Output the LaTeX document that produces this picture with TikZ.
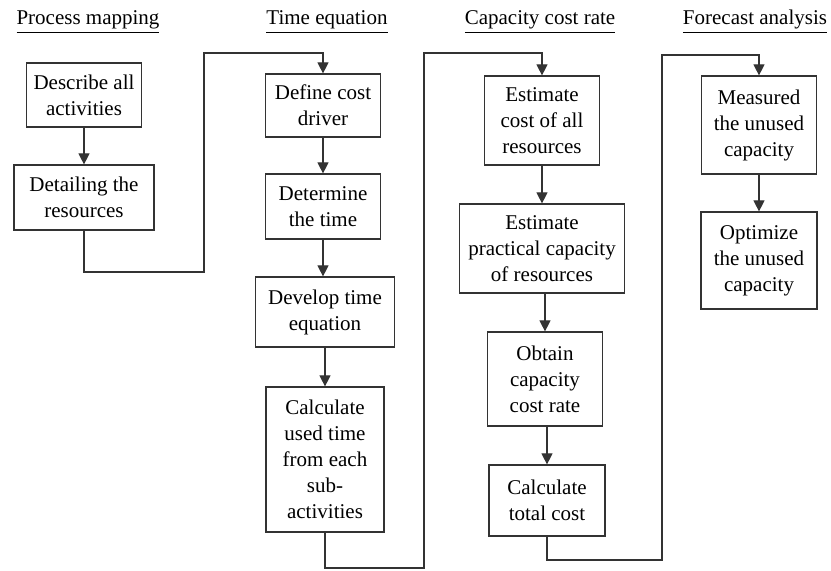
\documentclass[tikz,border=0pt]{standalone}
\usepackage{fontspec}
\setmainfont{Liberation Serif}
\usetikzlibrary{arrows.meta}

\begin{document}
\begin{tikzpicture}[x=0.5pt,y=-0.5pt,% pixel grid, y runs down
		every node/.style={
			align=center,		% so that "\\" breaks the line
			inner sep=0pt,
			font=\fontsize{10.5}{13}\selectfont
		},
		box/.style 2 args={rectangle,draw=black!80,line width=0.6pt,
			minimum width=#1*0.5pt,minimum height=#2*0.5pt},
		head/.style={anchor=base},
		link/.style={draw=black!80,line width=0.6pt,-{Triangle[length=5.5pt,width=5.5pt]}},
		every edge/.style={link}
	]
	\useasboundingbox (0,0) rectangle (831,571);
	% column headings
	\node[head](H1) at (88,25){\underline{Process mapping}};
	\node[head](H2) at (327,25){\underline{Time equation}};
	\node[head](H3) at (540,25){\underline{Capacity cost rate}};
	\node[head](H4) at (755,25){\underline{Forecast analysis}};
	% process mapping
	\node[box={115}{64}](D1) at (84,95){Describe all\\activities};
	\node[box={140}{65}](D2) at (84,197.5){Detailing the\\resources};
	% time equation
	\node[box={115}{63}](T1) at (323,105.5){Define cost\\driver};
	\node[box={115}{65}](T2) at (323,206.5){Determine\\the time};
	\node[box={139}{70}](T3) at (325,312){Develop time\\equation};
	\node[box={118}{145}](T4) at (325,459.5){Calculate\\used time\\from each\\sub-\\activities};
	% capacity cost rate
	\node[box={115}{89}](C1) at (542,120.5){Estimate\\cost of all\\resources};
	\node[box={165}{89}](C2) at (542,248.5){Estimate\\practical capacity\\of resources};
	\node[box={115}{94}](C3) at (545,379){Obtain\\capacity\\cost rate};
	\node[box={116}{71}](C4) at (547,500.5){Calculate\\total cost};
	% forecast analysis
	\node[box={115}{98}](F1) at (759,125){Measured\\the unused\\capacity};
	\node[box={116}{97}](F2) at (759,260.5){Optimize\\the unused\\capacity};
	% turning points of the long links
	\coordinate (b1) at (204,272);
	\coordinate (t1) at (204,53);
	\coordinate (b2) at (424,568);
	\coordinate (t2) at (424,53);
	\coordinate (b3) at (662,560);
	\coordinate (t3) at (662,55);
	\path
	(D1) edge (D2)
	(T1) edge (T2)
	(T2.south) edge (T2.south |- T3.north)
	(T3) edge (T4)
	(C1) edge (C2)
	(C2.south -| C3.north) edge (C3.north)
	(C3.south -| C4.north) edge (C4.north)
	(F1) edge (F2)
	;
	\draw[link] (D2.south) |- (b1) -- (t1) -| (T1.north);
	\draw[link] (T4.south) |- (b2) -- (t2) -| (C1.north);
	\draw[link] (C4.south) |- (b3) -- (t3) -| (F1.north);
\end{tikzpicture}
\end{document}
